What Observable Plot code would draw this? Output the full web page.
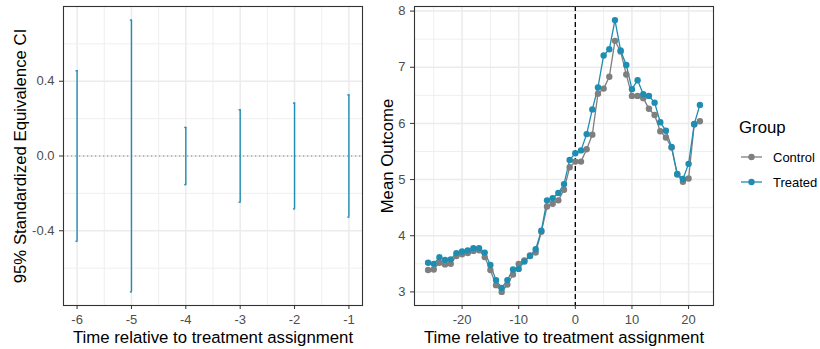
<!DOCTYPE html>
<html><head><meta charset="utf-8">
<script src="https://cdn.jsdelivr.net/npm/d3@7"></script>
<script src="https://cdn.jsdelivr.net/npm/@observablehq/plot@0.6"></script>
<style>
body{margin:0;background:#fff;}
#c{position:relative;width:820px;height:349px;font-family:"Liberation Sans",Arial,sans-serif;}
#c > svg{position:absolute;top:0;}
</style>
</head><body><div id="c"></div>
<script>
// ---- Left panel data ----
const ciTime = [-6, -5, -4, -3, -2, -1];
const ciLower = [-0.456, -0.727, -0.153, -0.247, -0.283, -0.327];
const ciUpper = [0.456, 0.727, 0.153, 0.247, 0.283, 0.327];
const leftXTicks = [-6, -5, -4, -3, -2, -1];
const leftXMinor = [-5.5, -4.5, -3.5, -2.5, -1.5];
const leftYTicks = [-0.4, 0, 0.4];
const leftYMinor = [-0.6, -0.2, 0.2, 0.6];

// ---- Right panel data ----
const time = [-26,-25,-24,-23,-22,-21,-20,-19,-18,-17,-16,-15,-14,-13,-12,-11,-10,-9,-8,-7,-6,-5,-4,-3,-2,-1,0,1,2,3,4,5,6,7,8,9,10,11,12,13,14,15,16,17,18,19,20,21,22];
const treated = [3.52,3.50,3.62,3.57,3.58,3.69,3.72,3.74,3.78,3.78,
                 3.70,3.48,3.21,3.07,3.21,3.40,3.41,3.54,3.64,3.76,
                 4.09,4.63,4.67,4.76,4.92,5.35,5.47,5.52,5.81,6.25,
                 6.64,7.21,7.32,7.84,7.30,7.04,6.61,6.77,6.52,6.49,
                 6.37,6.02,5.87,5.58,5.10,5.01,5.28,5.99,6.33];
const control = [3.39,3.40,3.52,3.49,3.50,3.64,3.67,3.69,3.73,3.74,
                 3.62,3.39,3.12,3.00,3.13,3.31,3.50,3.56,3.65,3.70,
                 4.07,4.52,4.57,4.63,4.82,5.22,5.32,5.32,5.54,5.80,
                 6.53,6.62,6.83,7.47,7.28,6.87,6.49,6.49,6.45,6.26,
                 6.15,5.86,5.75,5.57,5.09,4.96,5.02,5.98,6.04];
const groups = ["Control", "Treated"];
const groupColors = ["#7F7F7F", "#1F8DB1"];
const rightXTicks = [-20, -10, 0, 10, 20];
const rightXMinor = [-25, -15, -5, 5, 15];
const rightYTicks = [3, 4, 5, 6, 7, 8];
const rightYMinor = [3.5, 4.5, 5.5, 6.5, 7.5];

const xTitle = "Time relative to treatment assignment";

const ciData = ciTime.map((t, i) => ({t, lo: ciLower[i], hi: ciUpper[i]}));
const series = [];
groups.forEach((g, gi) => {
  const vals = gi === 0 ? control : treated;
  time.forEach((t, i) => series.push({t, v: vals[i], g}));
});

const GRID = "#EBEBEB";
const tickX = {tickSize: 4, tickPadding: 5, fontSize: 13, fill: "#4D4D4D", stroke: "#333333", label: null};
const tickY = {tickSize: 4, tickPadding: 5, fontSize: 13, fill: "#4D4D4D", stroke: "#333333", label: null};

const left = Plot.plot({
  width: 365, height: 349,
  marginLeft: 63, marginRight: 3, marginTop: 6, marginBottom: 44,
  style: {fontFamily: "Liberation Sans, Arial, sans-serif", background: "#fff", overflow: "visible"},
  x: {domain: [-6.25, -0.75], label: null},
  y: {domain: [-0.8, 0.8], label: null},
  marks: [
    Plot.ruleX(leftXMinor, {stroke: GRID, strokeWidth: 0.8}),
    Plot.ruleY(leftYMinor, {stroke: GRID, strokeWidth: 0.8}),
    Plot.ruleX(leftXTicks, {stroke: GRID, strokeWidth: 1.5}),
    Plot.ruleY(leftYTicks, {stroke: GRID, strokeWidth: 1.5}),
    Plot.ruleY([0], {stroke: "#808080", strokeWidth: 1.1, strokeDasharray: "1.2,2.8"}),
    Plot.ruleX(ciData, {x: "t", y1: "lo", y2: "hi", stroke: groupColors[1], strokeWidth: 1.4}),
    Plot.ruleY(ciData, {y: "hi", x1: d => d.t - 0.02, x2: d => d.t + 0.02, stroke: groupColors[1], strokeWidth: 1.4}),
    Plot.ruleY(ciData, {y: "lo", x1: d => d.t - 0.02, x2: d => d.t + 0.02, stroke: groupColors[1], strokeWidth: 1.4}),
    Plot.frame({stroke: "#333333", strokeWidth: 1.1}),
    Plot.axisX(leftXTicks, {...tickX, tickFormat: d => String(d)}),
    Plot.axisY(leftYTicks, {...tickY, tickFormat: d => d.toFixed(1)}),
    Plot.text([xTitle], {text: d => d, frameAnchor: "bottom", dy: 32, fontSize: 16.8, fill: "#000", lineAnchor: "middle"}),
    Plot.text(["95% Standardized Equivalence CI"], {text: d => d, frameAnchor: "left", dx: -43, rotate: -90, textAnchor: "middle", lineAnchor: "middle", fontSize: 16.8, fill: "#000"})
  ]
});
left.style.left = "0px";

const right = Plot.plot({
  width: 355, height: 349,
  marginLeft: 49, marginRight: 7, marginTop: 6, marginBottom: 44,
  style: {fontFamily: "Liberation Sans, Arial, sans-serif", background: "transparent", overflow: "visible"},
  x: {domain: [-28.4, 24.4], label: null},
  y: {domain: [2.758, 8.082], label: null},
  color: {domain: groups, range: groupColors},
  marks: [
    Plot.ruleX(rightXMinor, {stroke: GRID, strokeWidth: 0.8}),
    Plot.ruleY(rightYMinor, {stroke: GRID, strokeWidth: 0.8}),
    Plot.ruleX(rightXTicks, {stroke: GRID, strokeWidth: 1.5}),
    Plot.ruleY(rightYTicks, {stroke: GRID, strokeWidth: 1.5}),
    Plot.ruleX([0], {stroke: "#000", strokeWidth: 1.3, strokeDasharray: "5,3"}),
    Plot.line(series, {x: "t", y: "v", z: "g", stroke: "g", strokeWidth: 1.3}),
    Plot.dot(series, {x: "t", y: "v", fill: "g", r: 3.2}),
    Plot.frame({stroke: "#333333", strokeWidth: 1.1}),
    Plot.axisX(rightXTicks, {...tickX, tickFormat: d => String(d)}),
    Plot.axisY(rightYTicks, {...tickY, tickFormat: d => String(d)}),
    Plot.text([xTitle], {text: d => d, frameAnchor: "bottom", dy: 32, fontSize: 16.8, fill: "#000", lineAnchor: "middle"}),
    Plot.text(["Mean Outcome"], {text: d => d, frameAnchor: "left", dx: -27, rotate: -90, textAnchor: "middle", lineAnchor: "middle", fontSize: 16.8, fill: "#000"})
  ]
});
right.style.left = "365px";

const c = document.getElementById("c");
c.appendChild(left);
c.appendChild(right);

// Legend
const leg = d3.create("svg").attr("width", 100).attr("height", 349)
  .style("left", "720px").style("font-family", "Liberation Sans, Arial, sans-serif");
leg.append("text").attr("x", 19).attr("y", 133).attr("font-size", 16.8).text("Group");
groups.forEach((g, i) => {
  const y = 157 + i * 25;
  leg.append("line").attr("x1", 21).attr("x2", 42).attr("y1", y).attr("y2", y)
    .attr("stroke", groupColors[i]).attr("stroke-width", 1.3);
  leg.append("circle").attr("cx", 31.5).attr("cy", y).attr("r", 3.2).attr("fill", groupColors[i]);
  leg.append("text").attr("x", 53).attr("y", y).attr("dy", "0.35em").attr("font-size", 13).text(g);
});
c.appendChild(leg.node());
</script></body></html>
